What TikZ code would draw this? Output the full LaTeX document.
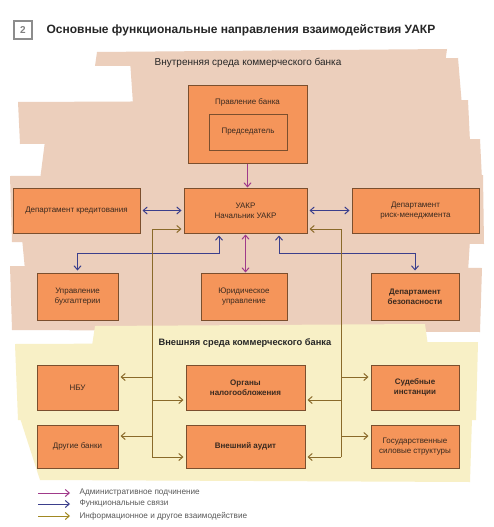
\documentclass[tikz,border=0pt]{standalone}
\usepackage{fontspec}
\setmainfont{Liberation Sans}
\usetikzlibrary{arrows.meta}
\definecolor{boxfill}{HTML}{F5955A}
\definecolor{boxline}{HTML}{7B4F2E}
\definecolor{pinkbg}{HTML}{ECCFBC}
\definecolor{yellowbg}{HTML}{F8F0C6}
\definecolor{admc}{HTML}{A03A8A}
\definecolor{func}{HTML}{3B3F8C}
\definecolor{infoc}{HTML}{8A6A2A}
\definecolor{txt}{HTML}{3A2A20}
\begin{document}
\begin{tikzpicture}[x=1pt,y=-1pt,
  box/.style={draw=boxline, fill=boxfill, line width=1pt, inner sep=0pt, align=center,
    font=\fontsize{8}{10}\selectfont, text=txt},
  bbox/.style={box, font=\fontsize{8}{10}\selectfont\bfseries},
  tip/.style={arrows={-Straight Barb[length=4pt,width=7pt]}},
  both/.style={arrows={Straight Barb[length=4pt,width=7pt]-Straight Barb[length=4pt,width=7pt]}},
  adm/.style={draw=admc, line width=1pt},
  fun/.style={draw=func, line width=1pt},
  inf/.style={draw=infoc, line width=1pt},
  leg/.style={anchor=west, font=\fontsize{8.2}{9}\selectfont, text=black!65}
]
\useasboundingbox (0,0) rectangle (493,527);
\fill[white] (0,0) rectangle (493,527);
% background bands
\fill[pinkbg] (97,52) -- (447,49) -- (445,64) -- (95,66) -- cycle;
\fill[pinkbg] (130,60) -- (458,58) -- (462,106) -- (133,104) -- cycle;
\fill[pinkbg] (18,102) -- (468,100) -- (470,142) -- (20,144) -- cycle;
\fill[pinkbg] (45,141) -- (480,139) -- (482,180) -- (40,180) -- cycle;
\fill[pinkbg] (10,176) -- (483,175) -- (484,244) -- (12,242) -- cycle;
\fill[pinkbg] (22,238) -- (470,240) -- (468,272) -- (25,270) -- cycle;
\fill[pinkbg] (10,266) -- (482,268) -- (480,332) -- (12,330) -- cycle;
\fill[yellowbg] (95,326) -- (425,324) -- (428,346) -- (92,346) -- cycle;
\fill[yellowbg] (15,344) -- (478,342) -- (476,420) -- (18,420) -- cycle;
\fill[yellowbg] (20,418) -- (472,418) -- (470,482) -- (40,480) -- cycle;
% title
\node[draw=black!45, line width=1.4pt, minimum size=18pt, inner sep=0pt,
  font=\fontsize{10}{12}\selectfont\bfseries, text=black!50] (num) at (23,30) {2};
\node[anchor=west, font=\fontsize{12}{14}\selectfont\bfseries, text=black!85] (title) at (43,30)
  {Основные функциональные направления взаимодействия УАКР};
\node[font=\fontsize{10}{12}\selectfont, text=black!85] (inner) at (248,63)
  {Внутренняя среда коммерческого банка};
\node[font=\fontsize{9.3}{11}\selectfont\bfseries, text=black!85] (outer) at (245,343)
  {Внешняя среда коммерческого банка};
% boxes
\node[box, minimum width=119pt, minimum height=78pt] (pravl) at (247.5,124) {};
\node[font=\fontsize{8}{10}\selectfont, text=txt] (pravlt) at (247.5,102) {Правление банка};
\node[box, minimum width=78pt, minimum height=36pt] (pred) at (248,132) {Председатель};
\node[box, minimum width=127pt, minimum height=45pt] (kred) at (76.5,210.5) {Департамент кредитования};
\node[box, minimum width=123pt, minimum height=45pt] (uakr) at (245.5,210.5) {УАКР\\Начальник УАКР};
\node[box, minimum width=127pt, minimum height=45pt] (risk) at (415.5,210.5) {Департамент\\риск-менеджмента};
\node[box, minimum width=81pt, minimum height=47pt] (buh) at (77.5,296.5) {Управление\\бухгалтерии};
\node[box, minimum width=86pt, minimum height=47pt] (yur) at (244,296.5) {Юридическое\\управление};
\node[bbox, minimum width=88pt, minimum height=47pt] (bez) at (415,296.5) {Департамент\\безопасности};
\node[box, minimum width=81pt, minimum height=45pt] (nbu) at (77.5,387.5) {НБУ};
\node[bbox, minimum width=119pt, minimum height=45pt] (nal) at (245.5,387.5) {Органы\\налогообложения};
\node[bbox, minimum width=88pt, minimum height=45pt] (sud) at (415,387.5) {Судебные\\инстанции};
\node[box, minimum width=81pt, minimum height=43pt] (dr) at (77.5,446.5) {Другие банки};
\node[bbox, minimum width=119pt, minimum height=43pt] (aud) at (245.5,446.5) {Внешний аудит};
\node[box, minimum width=88pt, minimum height=43pt] (gos) at (415,446.5) {Государственные\\силовые структуры};
% administrative
\draw[adm, tip] (pravl.south) -- (pravl.south |- uakr.north);
\draw[adm, both, shorten <=1pt] (uakr.south) -- (uakr.south |- yur.north);
% functional
\draw[fun, both, shorten <=2pt, shorten >=2pt] (kred.east) -- (uakr.west);
\draw[fun, both, shorten <=2pt, shorten >=2pt] (uakr.east) -- (risk.west);
\coordinate (fl) at (219,253);
\coordinate (fr) at (279,253);
\draw[fun, both, shorten <=2pt, shorten >=2pt] (buh.north) |- (fl) -- (fl |- uakr.south);
\draw[fun, both, shorten <=2pt, shorten >=2pt] (bez.north) |- (fr) -- (fr |- uakr.south);
% information
\coordinate (lt) at (152,229);
\coordinate (lb) at (152,457);
\coordinate (rt) at (341,229);
\coordinate (rb) at (341,457);
\draw[inf, tip, shorten >=2pt] (lb) -- (lt) -- (lt -| uakr.west);
\draw[inf, tip, shorten >=2pt] (rb) -- (rt) -- (rt -| uakr.east);
\draw[inf, tip, shorten >=2pt] (152,377) -- (152,377 -| nbu.east);
\draw[inf, tip, shorten >=2pt] (152,436) -- (152,436 -| dr.east);
\draw[inf, tip, shorten >=2pt] (152,400) -- (152,400 -| nal.west);
\draw[inf, tip, shorten >=2pt] (lb) -- (lb -| aud.west);
\draw[inf, tip, shorten >=2pt] (341,377) -- (341,377 -| sud.west);
\draw[inf, tip, shorten >=2pt] (341,436) -- (341,436 -| gos.west);
\draw[inf, tip, shorten >=2pt] (341,400) -- (341,400 -| nal.east);
\draw[inf, tip, shorten >=2pt] (rb) -- (rb -| aud.east);
% legend
\coordinate (a1) at (38,493); \coordinate (a2) at (70,493);
\coordinate (b1) at (38,504); \coordinate (b2) at (70,504);
\coordinate (c1) at (38,516); \coordinate (c2) at (70,516);
\draw[adm, tip] (a1) -- (a2);
\draw[fun, tip] (b1) -- (b2);
\draw[inf, draw=infoc!80!yellow, tip] (c1) -- (c2);
\node[leg] (la) at (76,493) {Административное подчинение};
\node[leg] (lbt) at (76,504) {Функциональные связи};
\node[leg] (lc) at (76,516) {Информационное и другое взаимодействие};
\end{tikzpicture}
\end{document}
